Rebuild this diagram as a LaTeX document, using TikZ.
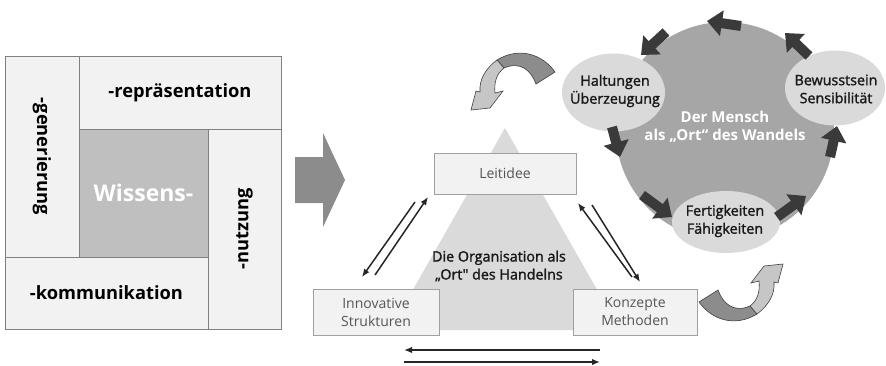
\documentclass[tikz,border=0pt]{standalone}
\usepackage{fontspec}
\setmainfont{Open Sans}
\newfontfamily\medfont{Open Sans}[FakeBold=1.6]
\usepackage{tikz}
\usetikzlibrary{positioning}
\usetikzlibrary{arrows.meta,calc}

\definecolor{framegray}{HTML}{808080}
\definecolor{paleface}{HTML}{F2F2F2}
\definecolor{wissfill}{HTML}{BFBFBF}
\definecolor{pushgray}{HTML}{8C8C8C}
\definecolor{trifill}{HTML}{DADADA}
\definecolor{boxline}{HTML}{A0A0A0}
\definecolor{boxtext}{HTML}{555555}
\definecolor{humanfill}{HTML}{A6A6A6}
\definecolor{ellfill}{HTML}{DADADA}
\definecolor{cycdark}{HTML}{3A3A3A}
\definecolor{turndark}{HTML}{8C8C8C}
\definecolor{turnlight}{HTML}{C6C6C6}

\tikzset{
	part/.style={draw=framegray, fill=paleface, line width=0.9pt, inner sep=0pt,
		font=\bfseries\fontsize{18.3}{20}\selectfont},
	box/.style={draw=boxline, fill=paleface, line width=0.8pt, inner sep=0pt, align=center,
		text=boxtext, font=\fontsize{14}{18}\selectfont},
	say/.style={align=center, text=black!90, font=\medfont\fontsize{14.3}{18}\selectfont},
	link/.style={draw=black!85, line width=1.5pt, -{Latex[length=8pt,width=6.5pt]}},
	cyc/.style={draw=cycdark, line width=10pt, -{Triangle[width=25pt,length=15pt]}},
}

% curved block arrow (tail dark, head light)
\newcommand{\turnarrow}{%
	\filldraw[fill=turndark, draw=black!75, line width=0.6pt]
		(555,72) .. controls (543,55) and (520,46) .. (497,60)
		-- (504,68) .. controls (520,61) and (531,70) .. (536,84) -- cycle;
	\filldraw[fill=turnlight, draw=black!75, line width=0.6pt]
		(497,60) .. controls (485,69) and (479,80) .. (480,92)
		-- (476,91) -- (471,110) -- (490,108) -- (503,91) -- (495,93)
		.. controls (494,83) and (496,74) .. (504,68) -- cycle;
}

\begin{document}
\begin{tikzpicture}[x=1pt,y=-1pt]
	
	\useasboundingbox (0,0) rectangle (886,365);
	
	% Wissens- square
	\node[part, rotate=-90, minimum width=201pt, minimum height=74pt] (gen) at (42,156.5) {-generierung};
	\node[part, minimum width=202pt, minimum height=73pt] (rep) at (180,92.5) {-repräsentation};
	\node[part, rotate=90, minimum width=200pt, minimum height=73pt] (use) at (244.5,229) {-nutzung};
	\node[part, minimum width=203pt, minimum height=72pt] (com) at (106.5,293) {-kommunikation};
	\node[part, fill=wissfill, text=white, font=\bfseries\fontsize{23}{25}\selectfont,
		minimum width=129pt, minimum height=128pt] (wiss) at (143.5,193) {Wissens-};
	
	% big arrow
	\fill[pushgray] (295,157) -- (323,157) -- (323,133) -- (345,180)
		-- (323,227) -- (323,203) -- (295,203) -- cycle;
	
	% organisation triangle
	\coordinate (apex) at (505,128);
	\fill[trifill] (apex) -- (620,330) -- (390,330) -- cycle;
	
	\node[box, minimum width=142pt, minimum height=41pt] (lead) at (505,173.5) {Leitidee};
	\node[box, minimum width=126pt, minimum height=46pt] (struct) at (376,312) {Innovative\\Strukturen};
	\node[box, minimum width=124pt, minimum height=46pt] (method) at (635,312) {Konzepte\\Methoden};
	\node[say] (org) at (499,266) {Die Organisation als\\„Ort" des Handelns};
	
	% double links
	\coordinate (la1) at (415,202); \coordinate (lb1) at (362,277);
	\coordinate (la2) at (375,275); \coordinate (lb2) at (428,197);
	\coordinate (ra1) at (632,277); \coordinate (rb1) at (578,203);
	\coordinate (ra2) at (592,205); \coordinate (rb2) at (640,282);
	\coordinate (ba1) at (600,350); \coordinate (bb1) at (404,350);
	\coordinate (ba2) at (404,362); \coordinate (bb2) at (600,362);
	\draw[link] (la1) -- (lb1);
	\draw[link] (la2) -- (lb2);
	\draw[link] (ra1) -- (rb1);
	\draw[link] (ra2) -- (rb2);
	\draw[link] (ba1) -- (bb1);
	\draw[link] (ba2) -- (bb2);
	
	% the human circle
	\node[circle, fill=humanfill, minimum size=218pt, inner sep=0pt] (human) at (725,131) {};
	
	\fill[ellfill] (613.5,92.5) ellipse [x radius=51.5pt, y radius=39pt];
	\fill[ellfill] (835,88) ellipse [x radius=50pt, y radius=37.5pt];
	\fill[ellfill] (726,222) ellipse [x radius=54pt, y radius=31pt];
	
	\node[say] (attitude) at (615,91) {Haltungen\\Überzeugung};
	\node[say] (aware) at (836,89) {Bewusstsein\\Sensibilität};
	\node[say] (skill) at (725,221) {Fertigkeiten\\Fähigkeiten};
	\node[align=center, text=white, font=\bfseries\fontsize{15}{18}\selectfont] (core) at (725,127)
		{Der Mensch\\als „Ort“ des Wandels};
	
	% cycle arrows
	\foreach \xa/\ya/\xb/\yb in {741/26/707/21, 666/32/641/55, 809/56/785/33, 612/127/620/157,
		642/195/672/217, 777/217/806/196, 830/157/837/126}{
		\draw[cyc] (\xa,\ya) -- (\xb,\yb);
	}
	
	% curved arrows
	\turnarrow
	\begin{scope}[rotate around={180:(627,187)}]
		\turnarrow
	\end{scope}
	
\end{tikzpicture}
\end{document}
